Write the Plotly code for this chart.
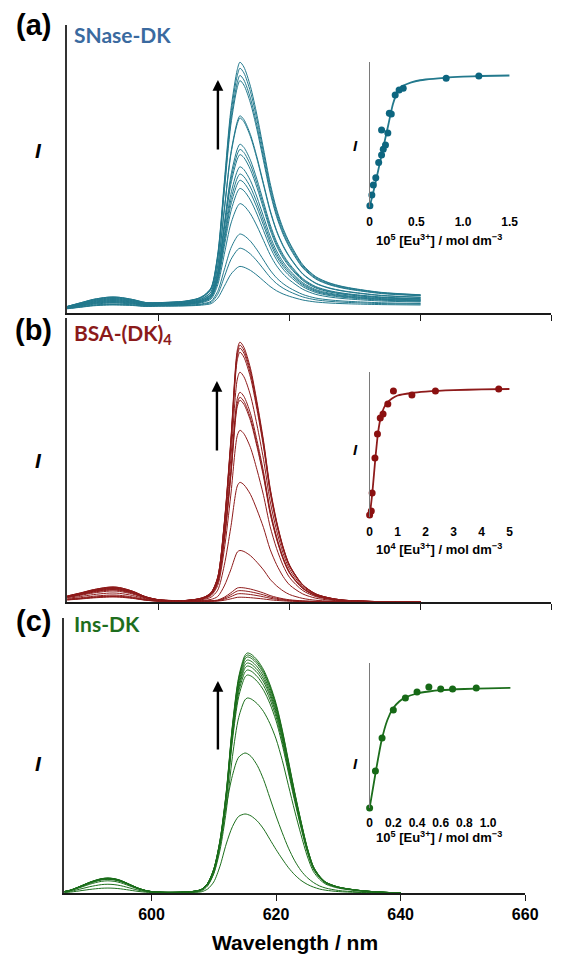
import plotly.graph_objects as go

W, H = 581, 955


def fx(x):
    return x / W


def fy(y):
    return 1 - y / H


# ---------------- data: panel (a) SNase-DK ----------------
WL_A = [586, 588, 590, 592, 593, 594, 596, 598, 600, 602, 604, 606, 607, 608, 609, 610, 611, 612, 612.4,
        613, 614, 615, 616, 617, 618, 619, 620, 622, 624, 626, 628, 630, 634, 640]
BG_A = [3, 3.5, 4, 4, 4, 4, 4.5, 4.5, 5, 5, 5, 5, 5, 5, 5, 5, 5, 5, 5,
        5, 5, 5, 5, 5, 5, 5, 5, 5, 5, 5, 5, 5, 5, 5]
HUMP_A = [0.3, 0.55, 0.8, 0.97, 1.0, 0.97, 0.75, 0.5, 0.45, 0.45, 0.47, 0.5, 0.5, 0.5, 0.45, 0.42, 0.4, 0.4, 0.4,
          0.4, 0.4, 0.4, 0.4, 0.4, 0.4, 0.4, 0.4, 0.4, 0.4, 0.4, 0.4, 0.4, 0.4, 0.4]
PEAK_A = [0, 0, 0, 0, 0, 0, 0, 0, 0, 0.002, 0.005, 0.015, 0.03, 0.06, 0.2, 0.5, 0.8, 0.97, 1.0,
          0.98, 0.9, 0.78, 0.64, 0.5, 0.39, 0.31, 0.25, 0.16, 0.11, 0.085, 0.07, 0.06, 0.045, 0.035]
PEAK_AMP_A = [241, 235, 228, 223, 188, 186, 160, 155, 150, 138, 131, 125, 117, 102, 72, 58, 40]
HUMP_AMP_A = [12, 12, 11.5, 11, 10.5, 10, 9.5, 9, 8.5, 8, 7.5, 7, 6.5, 6, 5, 4.5, 4]

INS_A_X = [0.003, 0.024, 0.04, 0.066, 0.097, 0.128, 0.146, 0.17, 0.128, 0.195, 0.211, 0.232, 0.274, 0.316,
           0.36, 0.82, 1.17]
INS_A_I = [1.3, 12, 22, 29.3, 44.5, 52, 57.7, 62, 77, 74, 93.7, 93, 112, 117, 118.7, 128.7, 131]
FIT_A_X = [0, 0.05, 0.1, 0.15, 0.2, 0.25, 0.3, 0.35, 0.4, 0.5, 0.6, 0.8, 1.0, 1.2, 1.5]
FIT_A_I = [0, 19, 40, 61, 82, 103, 115, 120.5, 123, 126, 127.5, 129.2, 130.3, 131, 131.5]
TICKS_A = [0, 0.5, 1.0, 1.5]
TICKTEXT_A = ["0", "0.5", "1.0", "1.5"]

# ---------------- data: panel (b) BSA-(DK)4 ----------------
WL_B = [586, 588, 590, 592, 593, 594, 596, 598, 600, 602, 604, 606, 607, 608, 609, 610, 611, 612, 612.4,
        613, 614, 615, 616, 617, 618, 619, 620, 622, 624, 626, 628, 630, 634, 640]
BG_B = [0] * len(WL_B)
HUMP_B = [0.4, 0.6, 0.82, 0.97, 1.0, 0.96, 0.72, 0.35, 0.15, 0.1, 0.1, 0.12, 0.13, 0.12, 0.1, 0.08, 0.07, 0.06, 0.06,
          0.06, 0.05, 0.05, 0.05, 0.04, 0.04, 0.04, 0.03, 0.03, 0.02, 0.02, 0.015, 0.01, 0.005, 0]
PEAK_B = [0, 0, 0, 0, 0, 0, 0, 0, 0, 0, 0, 0.005, 0.012, 0.03, 0.09, 0.3, 0.62, 0.97, 1.0,
          0.98, 0.9, 0.77, 0.62, 0.44, 0.31, 0.21, 0.14, 0.065, 0.03, 0.015, 0.007, 0.004, 0.001, 0.0]
PEAK_AMP_B = [259, 256, 253, 249, 229, 209, 204, 201, 171, 119, 51, 14, 11, 8, 4.5]
HUMP_AMP_B = [15, 15, 14.5, 14, 14, 13.5, 13, 12.5, 12, 11, 9, 7, 6, 5.5, 5]

INS_B_X = [0, 0.06, 0.09, 0.19, 0.28, 0.38, 0.48, 0.65, 0.85, 1.51, 2.35, 4.61]
INS_B_I = [2, 6, 24, 59, 83, 99, 103, 113, 126, 122, 126, 128]
FIT_B_X = [0, 0.1, 0.2, 0.3, 0.4, 0.5, 0.6, 0.8, 1.0, 1.5, 2, 3, 4, 5]
FIT_B_I = [0, 25, 57, 84, 100, 108.5, 113.5, 118.5, 121.5, 124, 125.3, 126.8, 127.6, 128]
TICKS_B = [0, 1, 2, 3, 4, 5]
TICKTEXT_B = ["0", "1", "2", "3", "4", "5"]

# ---------------- data: panel (c) Ins-DK ----------------
WL_C = [586, 587, 588, 589, 590, 591, 592, 593, 594, 595, 596, 597, 598, 599, 600, 602, 604, 606, 607, 608,
        609, 610, 611, 612, 613, 614, 615, 615.4, 616, 617, 618, 619, 620, 621, 622, 623, 624, 625, 626, 627,
        628, 630, 633, 636, 640]
SHAPE_C = [0.006, 0.012, 0.022, 0.033, 0.044, 0.053, 0.06, 0.0625, 0.06, 0.053, 0.042, 0.03, 0.019, 0.011,
           0.006, 0.003, 0.003, 0.005, 0.008, 0.015,
           0.04, 0.1, 0.22, 0.42, 0.7, 0.9, 0.99, 1.0, 0.995, 0.97, 0.93, 0.87, 0.79, 0.68, 0.55, 0.42, 0.3,
           0.19, 0.11, 0.07, 0.045, 0.025, 0.012, 0.005, 0.0]
SHAPE_C_LOW = [0.006, 0.012, 0.022, 0.033, 0.044, 0.053, 0.06, 0.0625, 0.06, 0.053, 0.042, 0.03, 0.019, 0.011,
               0.006, 0.003, 0.003, 0.005, 0.008, 0.015,
               0.05, 0.14, 0.34, 0.62, 0.84, 0.97, 1.0, 0.995, 0.975, 0.91, 0.81, 0.68, 0.55, 0.43, 0.32, 0.23,
               0.16, 0.11, 0.075, 0.05, 0.035, 0.018, 0.008, 0.003, 0.0]
PEAK_AMP_C = [240, 238, 236, 233, 230, 227, 223, 218, 195]
PEAK_AMP_C_LOW = [140, 79]

INS_C_X = [0, 0.049, 0.105, 0.2, 0.302, 0.40, 0.50, 0.60, 0.70, 0.90]
INS_C_I = [0, 37, 70, 98, 110, 116, 121, 119, 119, 120]
FIT_C_X = [0, 0.05, 0.1, 0.15, 0.2, 0.25, 0.3, 0.4, 0.5, 0.6, 0.8, 1.0, 1.19]
FIT_C_I = [0, 35, 67, 88, 100, 106.5, 110.5, 114.5, 116.5, 117.8, 119, 119.7, 120.2]
TICKS_C = [0, 0.2, 0.4, 0.6, 0.8, 1.0]
TICKTEXT_C = ["0", "0.2", "0.4", "0.6", "0.8", "1.0"]

MAIN_TICKS = [600, 620, 640, 660]

COL_A, DOT_A = "#23798d", "#0d6680"
COL_B, DOT_B = "#8e1b1b", "#8b1010"
COL_C, DOT_C = "#1c6e1c", "#166916"

ARIAL = "Liberation Sans, Arial, sans-serif"
LABF = "Lato, Open Sans, sans-serif"

fig = go.Figure()


def spectra(wl, bg, hump, peak, hump_amps, peak_amps, xa, ya, color):
    for h, p in zip(hump_amps, peak_amps):
        ys = [b + h * s1 + p * s2 for b, s1, s2 in zip(bg, hump, peak)]
        fig.add_trace(go.Scatter(x=wl, y=ys, mode="lines", xaxis=xa, yaxis=ya,
                                 line=dict(color=color, width=1, shape="spline", smoothing=0.8),
                                 hoverinfo="skip", showlegend=False))


spectra(WL_A, BG_A, HUMP_A, PEAK_A, HUMP_AMP_A, PEAK_AMP_A, "x", "y", COL_A)
spectra(WL_B, BG_B, HUMP_B, PEAK_B, HUMP_AMP_B, PEAK_AMP_B, "x2", "y2", COL_B)
zero_c = [0] * len(WL_C)
spectra(WL_C, zero_c, zero_c, SHAPE_C, [0] * len(PEAK_AMP_C), PEAK_AMP_C, "x3", "y3", COL_C)
spectra(WL_C, zero_c, zero_c, SHAPE_C_LOW, [0] * len(PEAK_AMP_C_LOW), PEAK_AMP_C_LOW, "x3", "y3", COL_C)


def inset(px_, py_, fitx, fity, xa, ya, lcol, dcol):
    fig.add_trace(go.Scatter(x=fitx, y=fity, mode="lines", xaxis=xa, yaxis=ya,
                             line=dict(color=lcol, width=1.8, shape="spline", smoothing=0.6),
                             hoverinfo="skip", showlegend=False, cliponaxis=False))
    fig.add_trace(go.Scatter(x=px_, y=py_, mode="markers", xaxis=xa, yaxis=ya,
                             marker=dict(color=dcol, size=7), hoverinfo="skip",
                             showlegend=False, cliponaxis=False))


inset(INS_A_X, INS_A_I, FIT_A_X, FIT_A_I, "x4", "y4", COL_A, DOT_A)
inset(INS_B_X, INS_B_I, FIT_B_X, FIT_B_I, "x5", "y5", COL_B, DOT_B)
inset(INS_C_X, INS_C_I, FIT_C_X, FIT_C_I, "x6", "y6", COL_C, DOT_C)

main_x = dict(range=[586, 660], showline=True, linecolor="#1a1a1a", linewidth=1.6,
              ticks="outside", ticklen=6, tickwidth=1.2, tickcolor="#1a1a1a",
              showgrid=False, zeroline=False, tickvals=MAIN_TICKS)
main_y = dict(showline=True, linecolor="#333333", linewidth=1.8, showticklabels=False,
              ticks="", showgrid=False, zeroline=False)
ins_x = dict(showline=False, showgrid=False, zeroline=False, ticks="",
             tickfont=dict(family=ARIAL, size=12, color="black", weight="bold"),
             ticklabelstandoff=6)
ins_y = dict(showline=True, linecolor="#7a7a7a", linewidth=1, showticklabels=False,
             ticks="", showgrid=False, zeroline=False, range=[0, 145])

fig.update_layout(
    width=W, height=H,
    margin=dict(l=0, r=0, t=0, b=0),
    paper_bgcolor="white", plot_bgcolor="rgba(0,0,0,0)",
    showlegend=False,
    xaxis=dict(domain=[fx(66), fx(564)], anchor="y", showticklabels=False, **main_x),
    yaxis=dict(domain=[fy(313), fy(25)], anchor="x", range=[0, 288], **main_y),
    xaxis2=dict(domain=[fx(66), fx(564)], anchor="y2", showticklabels=False, **main_x),
    yaxis2=dict(domain=[fy(602), fy(318)], anchor="x2", range=[0, 284], **main_y),
    xaxis3=dict(domain=[fx(63), fx(537)], anchor="y3", showticklabels=True,
                tickfont=dict(family=ARIAL, size=16, color="black", weight="bold"), **main_x),
    yaxis3=dict(domain=[fy(893), fy(618)], anchor="x3", range=[0, 275], **main_y),
    xaxis4=dict(domain=[fx(377), fx(521)], anchor="y4", range=[0, 1.5], tickvals=TICKS_A,
                ticktext=TICKTEXT_A, **ins_x),
    yaxis4=dict(domain=[fy(207), fy(62)], anchor="x4", **ins_y),
    xaxis5=dict(domain=[fx(377), fx(521)], anchor="y5", range=[0, 5], tickvals=TICKS_B,
                ticktext=TICKTEXT_B, **ins_x),
    yaxis5=dict(domain=[fy(517), fy(372)], anchor="x5", **ins_y),
    xaxis6=dict(domain=[fx(377), fx(522)], anchor="y6", range=[0, 1.19], tickvals=TICKS_C,
                ticktext=TICKTEXT_C, **ins_x),
    yaxis6=dict(domain=[fy(808), fy(663)], anchor="x6", **ins_y),
)

ann = []


def text(x, y, t, size, color="black", family=ARIAL, italic=False, weight="bold", xanchor="center"):
    ann.append(dict(x=fx(x), y=fy(y), xref="paper", yref="paper", text=t, showarrow=False,
                    xanchor=xanchor, yanchor="middle",
                    font=dict(size=size, color=color, family=family, weight=weight,
                              style="italic" if italic else "normal")))


def arrow(x, y0, y1):
    ann.append(dict(x=fx(x), y=fy(y1), ax=0, ay=y0 - y1, xref="paper", yref="paper",
                    axref="pixel", ayref="pixel", text="", showarrow=True, arrowhead=2,
                    arrowsize=0.9, arrowwidth=2.4, arrowcolor="black"))


# panel labels
text(31, 25, "(a)", 29)
text(31, 330, "(b)", 29)
text(31, 621, "(c)", 29)
text(71, 34, "SNase-DK", 21, "#3a6a9f", LABF, xanchor="left")
text(71, 334, "BSA-(DK)<sub>4</sub>", 21, "#8b1a1a", LABF, xanchor="left")
text(71, 623, "Ins-DK", 21, "#1e6e1e", LABF, xanchor="left")

# main I labels
text(37, 150, "I", 21, italic=True)
text(37, 460, "I", 21, italic=True)
text(37, 763, "I", 21, italic=True)

# inset I labels
text(362, 145, "I", 15, italic=True)
text(362, 450, "I", 15, italic=True)
text(362, 763, "I", 15, italic=True)

# inset titles
text(448, 240, "10<sup>5</sup> [Eu<sup>3+</sup>] / mol dm<sup>−3</sup>", 13)
text(448, 549, "10<sup>4</sup> [Eu<sup>3+</sup>] / mol dm<sup>−3</sup>", 13)
text(448, 837, "10<sup>5</sup> [Eu<sup>3+</sup>] / mol dm<sup>−3</sup>", 13)

# main x title
text(300, 942, "Wavelength / nm", 21)

# arrows
arrow(221, 151, 80)
arrow(220, 452, 381)
arrow(221, 751, 681)

fig.update_layout(annotations=ann)

fig.write_html("out.html", config={"displayModeBar": False},
               post_script="document.body.style.margin='0px';")
